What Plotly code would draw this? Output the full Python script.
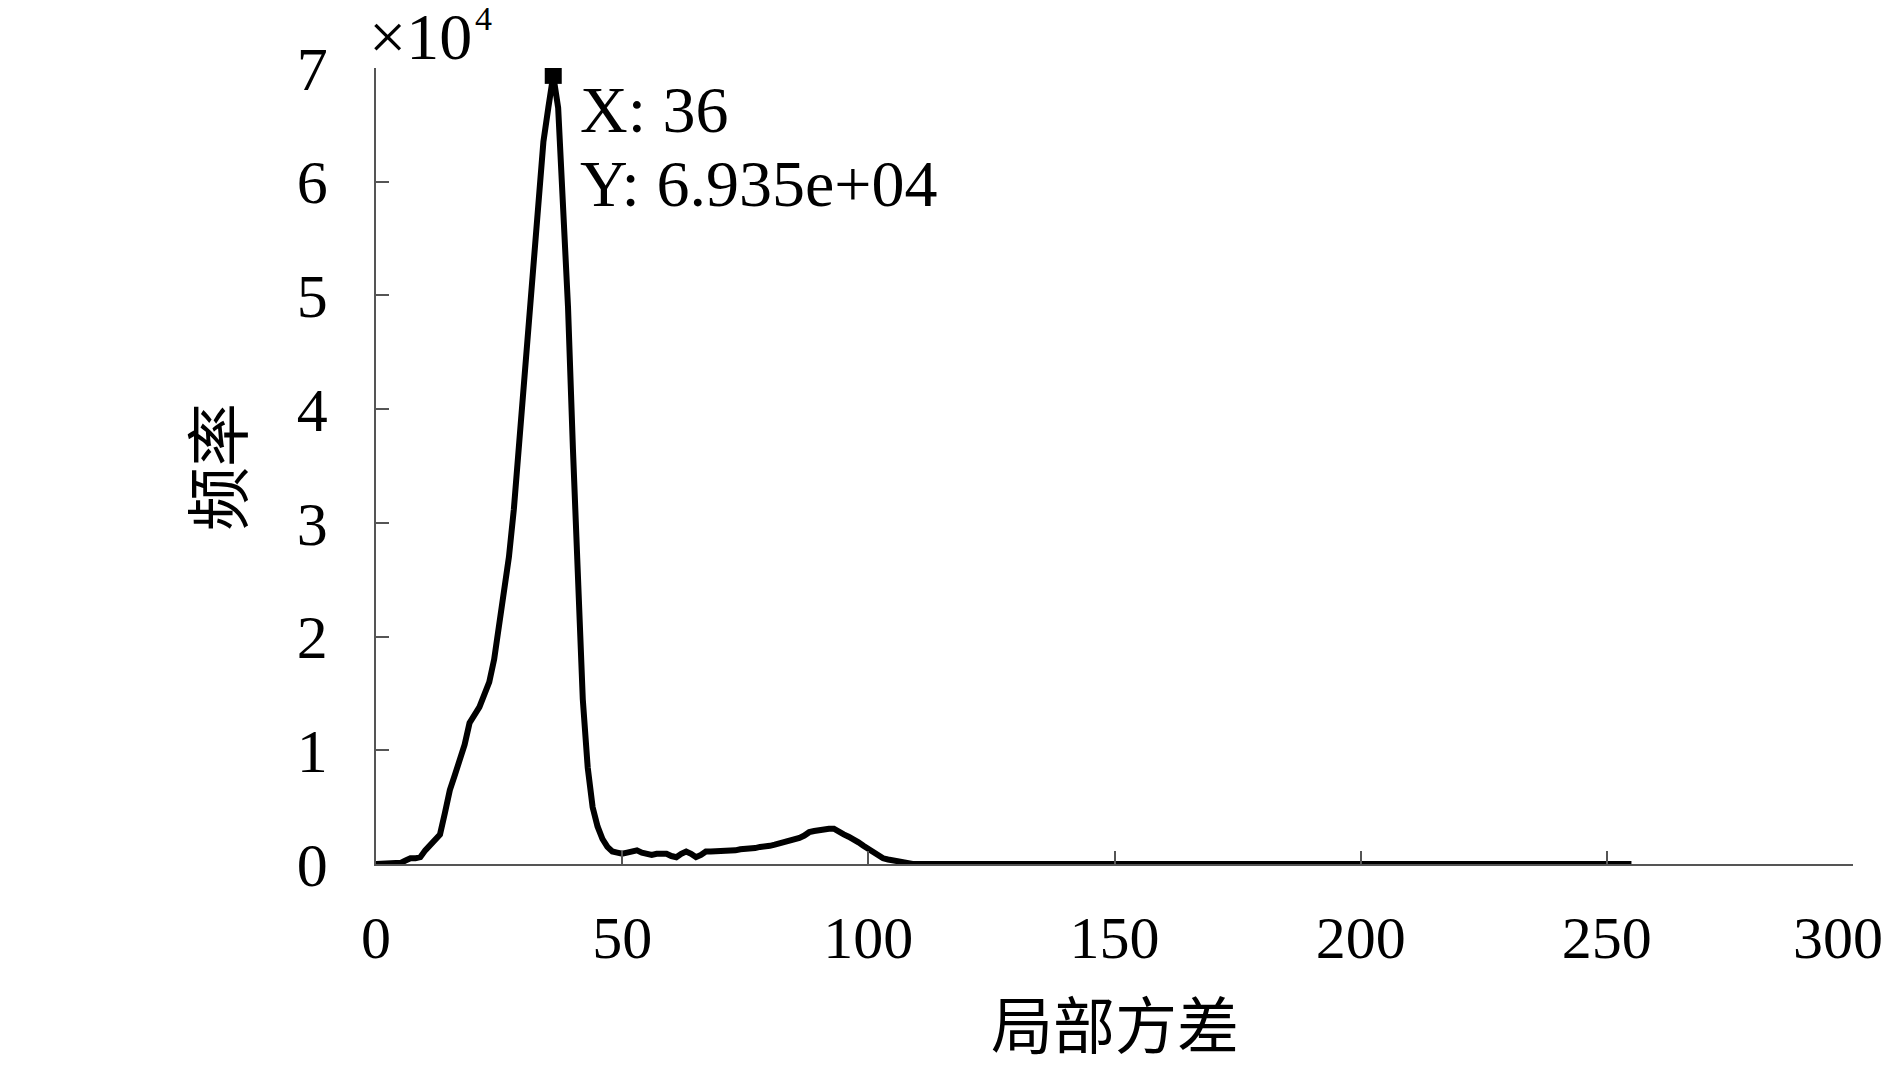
import plotly.graph_objects as go

# ---- data (histogram of local variance, counts) ----
bins_main = list(range(0, 111))
counts_main = [
    0, 0, 0, 0, 0, 100, 300, 500, 500, 600,            # 0-9
    1200, 1700, 2100, 2600, 4500, 6500, 7800, 9000, 10500, 12400,   # 10-19
    13000, 13800, 14900, 16000, 18000, 21200, 24000, 27000, 31200, 36800,  # 20-29
    41000, 46800, 53800, 58000, 63500, 66500, 69350, 66500, 58500, 49000,  # 30-39
    36500, 24000, 14500, 8500, 5000, 3300, 2200, 1500, 1100, 1000,  # 40-49
    900, 1000, 1100, 1200, 1000, 900, 800, 900, 900, 900,          # 50-59
    700, 600, 900, 1100, 900, 600, 800, 1100, 1100, 1100,          # 60-69
    1100, 1200, 1200, 1200, 1300, 1300, 1300, 1400, 1500, 1500,    # 70-79
    1600, 1700, 1800, 1900, 2000, 2100, 2300, 2500, 2800, 2900,    # 80-89
    3000, 3000, 3100, 3100, 2800, 2600, 2400, 2200, 1900, 1600,    # 90-99
    1300, 1000, 700, 500, 400, 300, 200, 100, 0, 0,                # 100-109
    0,                                                             # 110
]
bins_tail = [120, 140, 160, 180, 200, 220, 240, 255]
counts_tail = [0, 0, 0, 0, 0, 0, 0, 0]

peak_x = 36
peak_y = 69350

x_ticks = [0, 50, 100, 150, 200, 250, 300]
x_tick_labels = ["0", "50", "100", "150", "200", "250", "300\u00a0\u00a0"]
y_ticks = [0, 1, 2, 3, 4, 5, 6, 7]

x_title = "局部方差"
y_title = "频率"

SCALE = 1e4
xs = bins_main + bins_tail
ys = [c / SCALE for c in counts_main + counts_tail]

SERIF = "Liberation Serif, Times New Roman, serif"
CJK = "Noto Sans CJK SC"

W, H = 1890, 1071
L, R, T, B = 376, 37, 68, 207
PW, PH = W - L - R, H - T - B

fig = go.Figure()
fig.add_trace(go.Scatter(
    x=xs, y=ys, mode="lines",
    line=dict(color="black", width=6),
    hoverinfo="skip", showlegend=False,
))
fig.add_trace(go.Scatter(
    x=[peak_x], y=[peak_y / SCALE], mode="markers",
    marker=dict(symbol="square", size=17, color="black"),
    showlegend=False,
))

fig.update_layout(
    width=W, height=H,
    margin=dict(l=L, r=R, t=T, b=B, autoexpand=False),
    paper_bgcolor="white", plot_bgcolor="white",
    font=dict(family=SERIF, color="black", size=62),
)
fig.update_xaxes(
    range=[0, 300], tickvals=x_ticks, ticktext=x_tick_labels,
    showline=True, linecolor="#555", linewidth=1.5,
    ticks="inside", ticklen=13, tickcolor="#555", tickwidth=1.5,
    showgrid=False, zeroline=False, automargin=False,
    tickfont=dict(family=SERIF, size=60, color="black"),
    ticklabelstandoff=20, ticklabeloverflow="allow",
)
fig.update_yaxes(
    range=[0, 7], tickvals=y_ticks, ticktext=[str(v) for v in y_ticks],
    showline=True, linecolor="#555", linewidth=1.5,
    ticks="inside", ticklen=13, tickcolor="#555", tickwidth=1.5,
    showgrid=False, zeroline=False, automargin=False,
    tickfont=dict(family=SERIF, size=62, color="black"),
    ticklabelstandoff=34, ticklabeloverflow="allow",
)


def px_x(px):
    return (px - L) / PW


def px_y(py):
    return (H - B - py) / PH


annos = [
    dict(text=y_title, xref="paper", yref="paper", x=px_x(214), y=px_y(467),
         textangle=-90, showarrow=False, xanchor="center", yanchor="middle",
         font=dict(family=CJK, size=64, color="black")),
    dict(text=x_title, xref="paper", yref="paper", x=0.5, y=px_y(1022),
         showarrow=False, xanchor="center", yanchor="middle",
         font=dict(family=CJK, size=62, color="black")),
    dict(text="×10", xref="paper", yref="paper", x=px_x(367), y=px_y(36),
         showarrow=False, xanchor="left", yanchor="middle",
         font=dict(family=SERIF, size=66, color="black")),
    dict(text="4", xref="paper", yref="paper", x=px_x(473), y=px_y(18),
         showarrow=False, xanchor="left", yanchor="middle",
         font=dict(family=SERIF, size=34, color="black")),
    dict(text="X: 36", xref="paper", yref="paper", x=px_x(578), y=px_y(110),
         showarrow=False, xanchor="left", yanchor="middle",
         font=dict(family=SERIF, size=66, color="black")),
    dict(text="Y: 6.935e+04", xref="paper", yref="paper", x=px_x(578), y=px_y(183),
         showarrow=False, xanchor="left", yanchor="middle",
         font=dict(family=SERIF, size=66, color="black")),
]
fig.update_layout(annotations=annos)

fig.write_html(
    "out.html",
    config={"displayModeBar": False},
    post_script="document.body.style.margin='0px';document.body.style.overflow='hidden';",
)
